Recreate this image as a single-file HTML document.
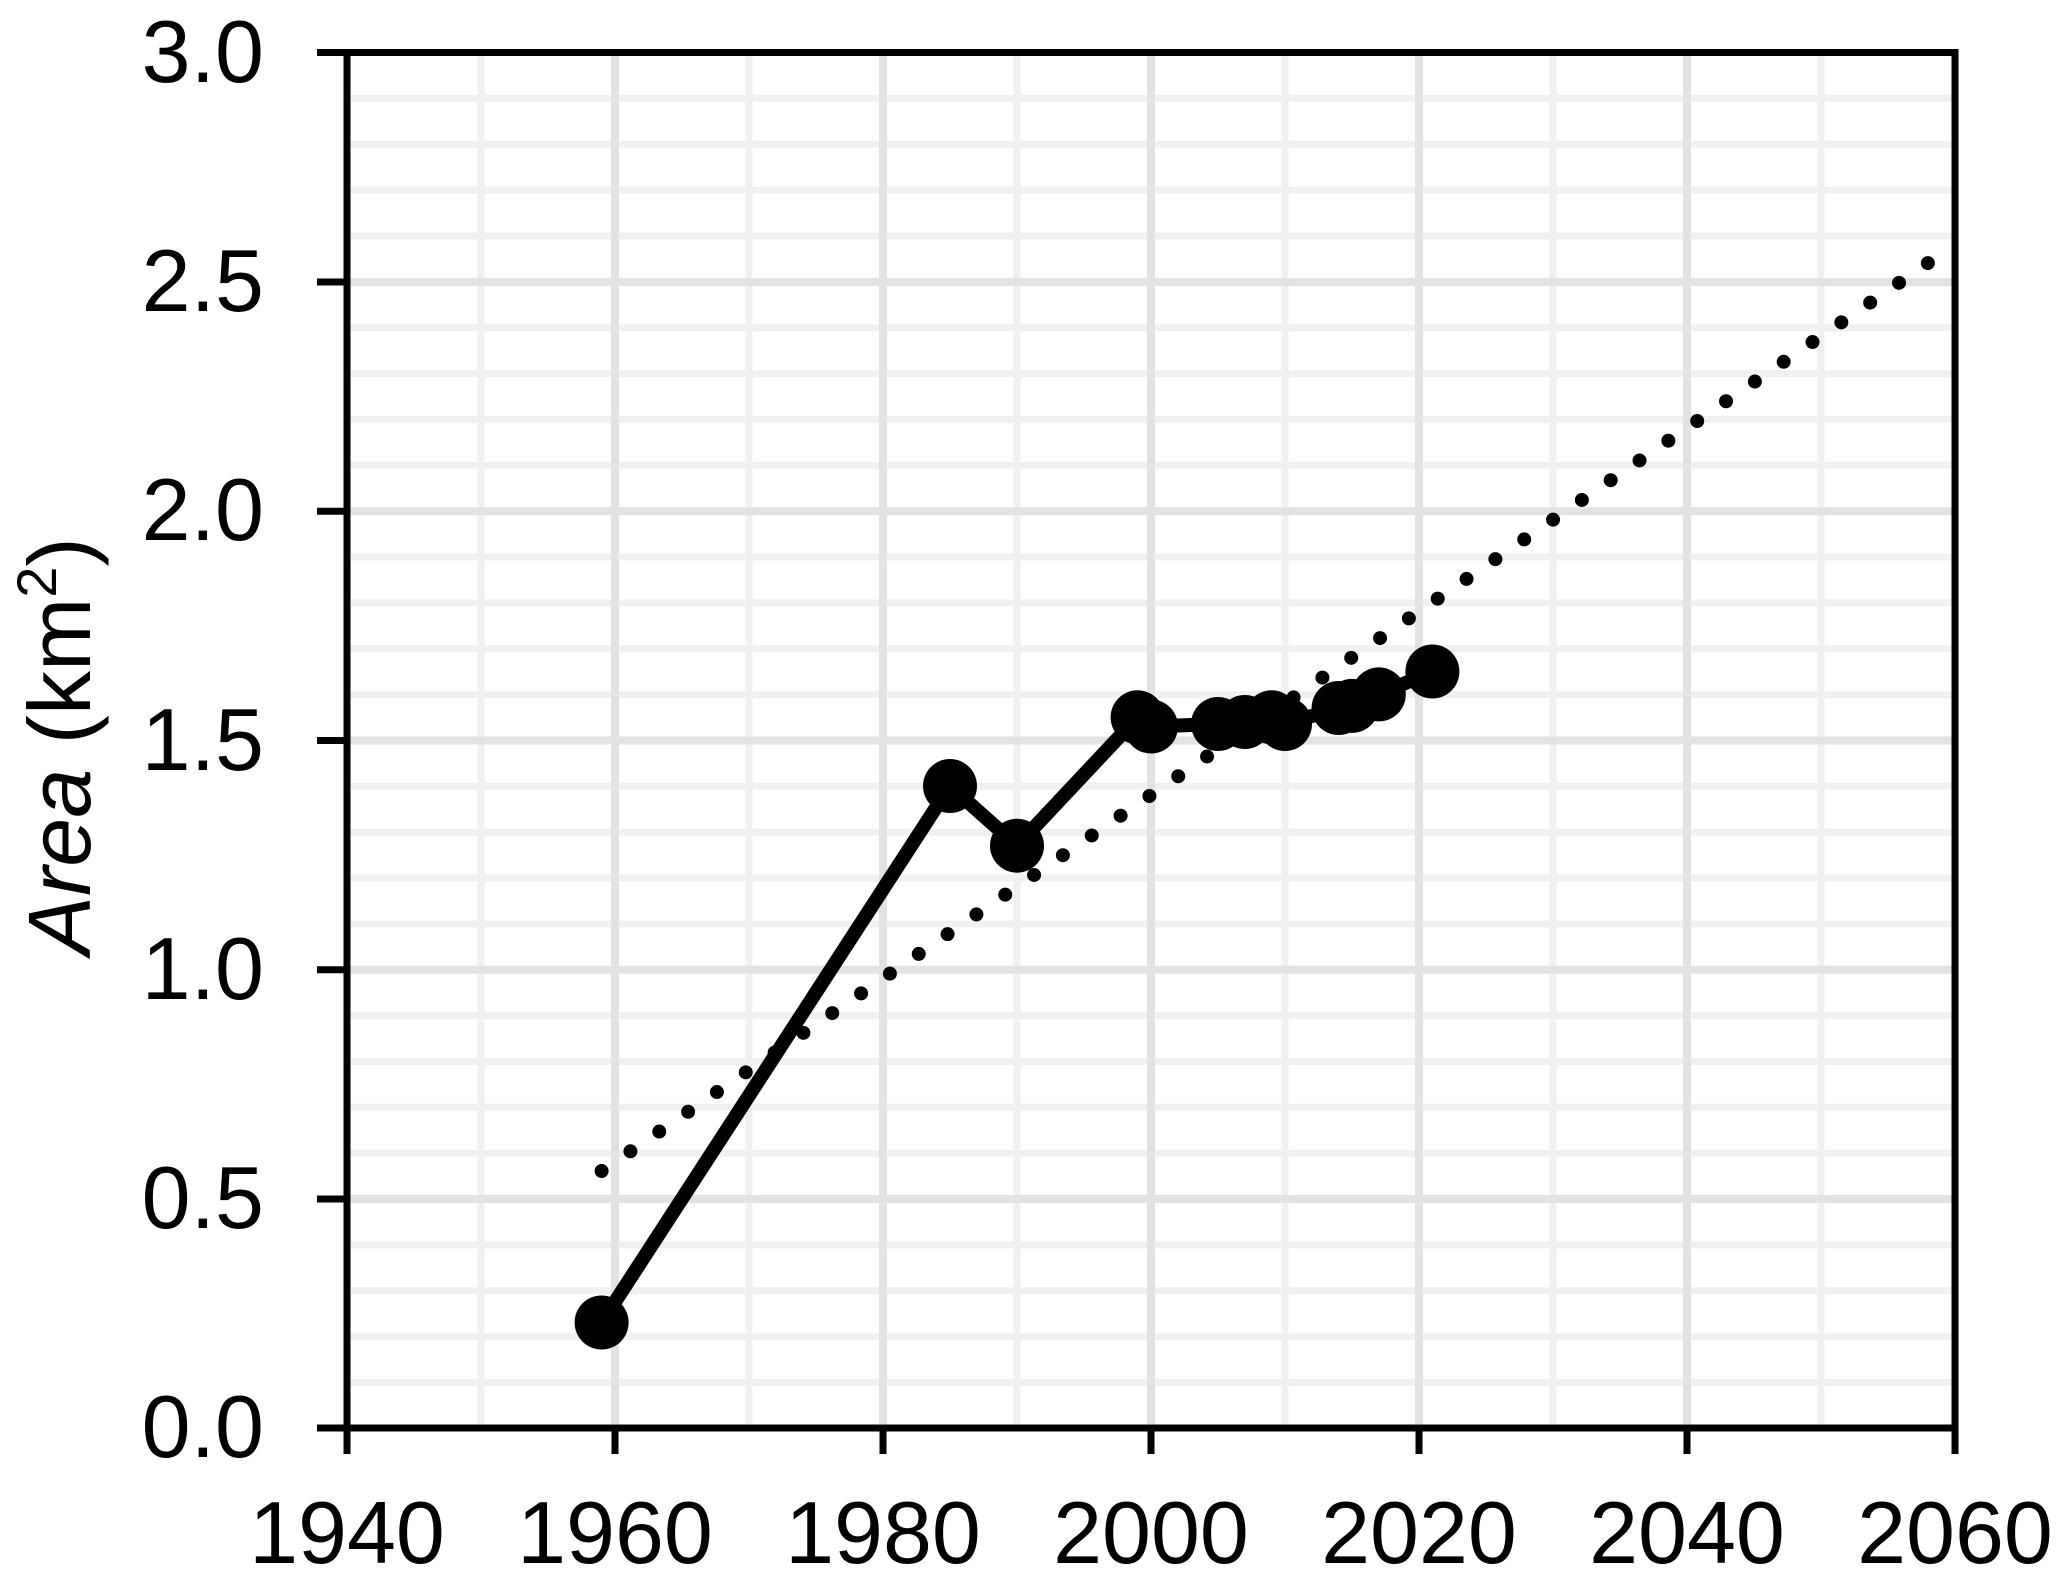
<!DOCTYPE html>
<html><head><meta charset="utf-8"><style>html,body{margin:0;padding:0;background:#fff}svg{display:block}</style></head>
<body>
<svg width="2067" height="1582" viewBox="0 0 2067 1582" xmlns="http://www.w3.org/2000/svg" font-family="Liberation Sans, Arial, sans-serif">
<rect width="2067" height="1582" fill="#fff"/>
<g stroke="#f0f0f0" stroke-width="7">
<line x1="350" y1="98.4" x2="1952" y2="98.4"/><line x1="350" y1="144.2" x2="1952" y2="144.2"/><line x1="350" y1="190.1" x2="1952" y2="190.1"/><line x1="350" y1="236" x2="1952" y2="236"/>
<line x1="350" y1="327.7" x2="1952" y2="327.7"/><line x1="350" y1="373.6" x2="1952" y2="373.6"/><line x1="350" y1="419.4" x2="1952" y2="419.4"/><line x1="350" y1="465.3" x2="1952" y2="465.3"/>
<line x1="350" y1="557" x2="1952" y2="557"/><line x1="350" y1="602.9" x2="1952" y2="602.9"/><line x1="350" y1="648.7" x2="1952" y2="648.7"/><line x1="350" y1="694.6" x2="1952" y2="694.6"/>
<line x1="350" y1="786.3" x2="1952" y2="786.3"/><line x1="350" y1="832.2" x2="1952" y2="832.2"/><line x1="350" y1="878" x2="1952" y2="878"/><line x1="350" y1="923.9" x2="1952" y2="923.9"/>
<line x1="350" y1="1015.6" x2="1952" y2="1015.6"/><line x1="350" y1="1061.5" x2="1952" y2="1061.5"/><line x1="350" y1="1107.3" x2="1952" y2="1107.3"/><line x1="350" y1="1153.2" x2="1952" y2="1153.2"/>
<line x1="350" y1="1244.9" x2="1952" y2="1244.9"/><line x1="350" y1="1290.8" x2="1952" y2="1290.8"/><line x1="350" y1="1336.6" x2="1952" y2="1336.6"/><line x1="350" y1="1382.5" x2="1952" y2="1382.5"/>
<line x1="481" y1="56" x2="481" y2="1424"/><line x1="749" y1="56" x2="749" y2="1424"/><line x1="1017" y1="56" x2="1017" y2="1424"/><line x1="1285" y1="56" x2="1285" y2="1424"/><line x1="1553" y1="56" x2="1553" y2="1424"/><line x1="1821" y1="56" x2="1821" y2="1424"/>
</g>
<g stroke="#e2e2e2" stroke-width="8">
<line x1="350" y1="282" x2="1952" y2="282"/><line x1="350" y1="511.2" x2="1952" y2="511.2"/><line x1="350" y1="740.5" x2="1952" y2="740.5"/><line x1="350" y1="969.8" x2="1952" y2="969.8"/><line x1="350" y1="1199" x2="1952" y2="1199"/>
<line x1="615" y1="56" x2="615" y2="1424"/><line x1="883" y1="56" x2="883" y2="1424"/><line x1="1151" y1="56" x2="1151" y2="1424"/><line x1="1419" y1="56" x2="1419" y2="1424"/><line x1="1687" y1="56" x2="1687" y2="1424"/>
</g>
<g stroke="#000" stroke-width="7" fill="none">
<rect x="347" y="52.5" width="1608" height="1375.5"/>
<line x1="317" y1="52.5" x2="347" y2="52.5"/><line x1="317" y1="282" x2="347" y2="282"/><line x1="317" y1="511.2" x2="347" y2="511.2"/><line x1="317" y1="740.5" x2="347" y2="740.5"/><line x1="317" y1="969.8" x2="347" y2="969.8"/><line x1="317" y1="1199" x2="347" y2="1199"/><line x1="317" y1="1428" x2="347" y2="1428"/>
<line x1="347" y1="1428" x2="347" y2="1454"/><line x1="615" y1="1428" x2="615" y2="1454"/><line x1="883" y1="1428" x2="883" y2="1454"/><line x1="1151" y1="1428" x2="1151" y2="1454"/><line x1="1419" y1="1428" x2="1419" y2="1454"/><line x1="1687" y1="1428" x2="1687" y2="1454"/><line x1="1955" y1="1428" x2="1955" y2="1454"/>
</g>
<g font-size="88" fill="#000" text-anchor="end">
<text x="264" y="82">3.0</text><text x="264" y="311">2.5</text><text x="264" y="540">2.0</text><text x="264" y="770">1.5</text><text x="264" y="999">1.0</text><text x="264" y="1228">0.5</text><text x="264" y="1457">0.0</text>
</g>
<g font-size="88" fill="#000" text-anchor="middle">
<text x="347" y="1563">1940</text><text x="615" y="1563">1960</text><text x="883" y="1563">1980</text><text x="1151" y="1563">2000</text><text x="1419" y="1563">2020</text><text x="1687" y="1563">2040</text><text x="1955" y="1563">2060</text>
</g>
<text transform="translate(90,746) rotate(-90)" font-size="88" text-anchor="middle" fill="#000"><tspan font-style="italic">Area</tspan> (km<tspan font-size="56" dy="-34">2</tspan><tspan dy="34">)</tspan></text>
<line x1="601.6" y1="1171" x2="1928" y2="263" stroke="#000" stroke-width="14" stroke-linecap="round" stroke-dasharray="0 34.94"/>
<polyline fill="none" stroke="#000" stroke-width="14" stroke-linejoin="round" points="601.6,1322.5 950,786 1017,845.7 1137.6,717.3 1151,726.5 1218,724 1244.8,722 1271.6,717.3 1285,724 1338.6,708 1352,705.9 1378.8,694.4 1432.4,671.5"/>
<g fill="#000">
<circle cx="601.6" cy="1322.5" r="27"/><circle cx="950" cy="786" r="27"/><circle cx="1017" cy="845.7" r="27"/><circle cx="1137.6" cy="717.3" r="27"/><circle cx="1151" cy="726.5" r="27"/><circle cx="1218" cy="724" r="27"/><circle cx="1244.8" cy="722" r="27"/><circle cx="1271.6" cy="717.3" r="27"/><circle cx="1285" cy="724" r="27"/><circle cx="1338.6" cy="708" r="27"/><circle cx="1352" cy="705.9" r="27"/><circle cx="1378.8" cy="694.4" r="27"/><circle cx="1432.4" cy="671.5" r="27"/>
</g>
</svg>
</body></html>
